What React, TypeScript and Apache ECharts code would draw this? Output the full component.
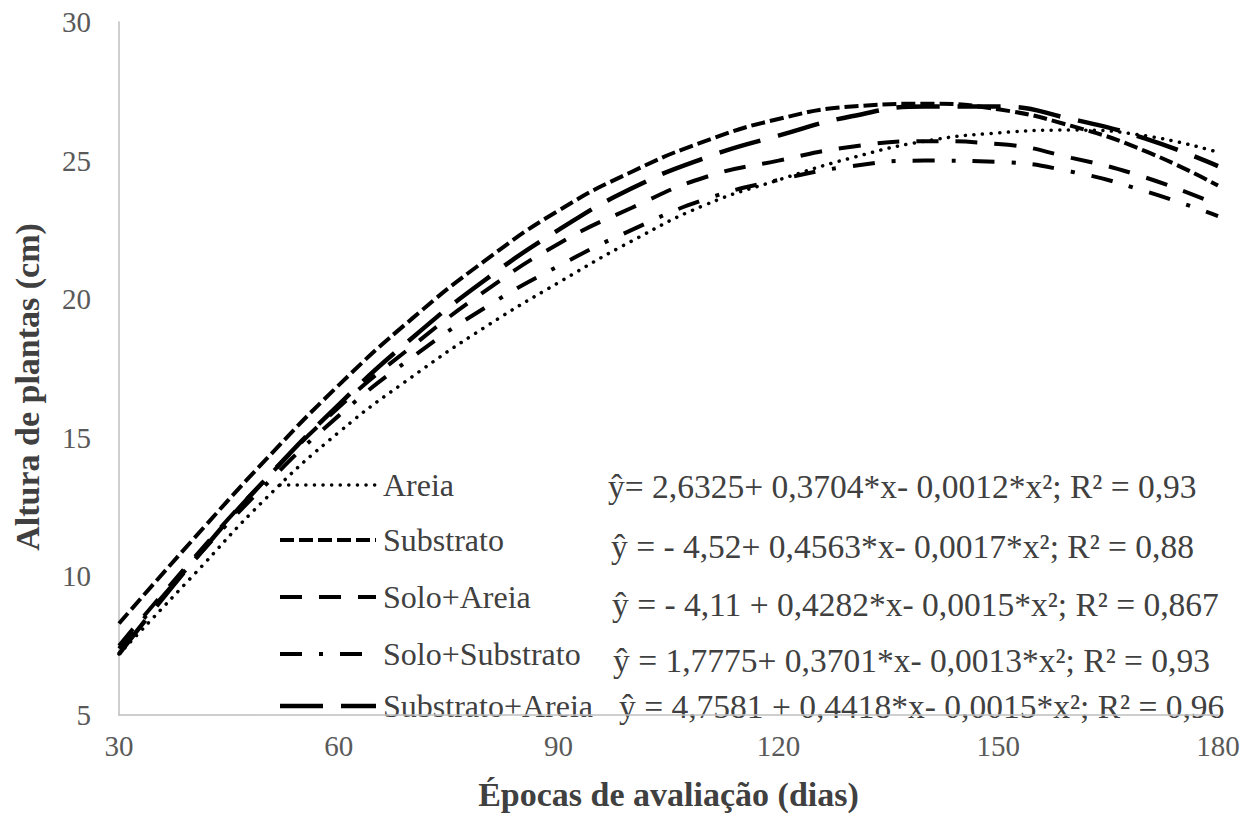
import React, { useEffect, useRef } from "react";
import * as echarts from "echarts";

const days = [30, 40, 50, 60, 70, 80, 90, 100, 110, 120, 130, 140, 150, 160, 170, 180];
const areia = [7.2, 10.0, 12.8, 15.2, 17.2, 19.0, 20.6, 22.1, 23.4, 24.3, 25.1, 25.7, 26.0, 26.1, 25.9, 25.3];
const substrato = [8.3, 11.3, 14.2, 16.9, 19.3, 21.4, 23.2, 24.6, 25.7, 26.5, 26.95, 27.05, 26.85, 26.25, 25.35, 24.1];
const soloAreia = [7.5, 10.6, 13.5, 16.1, 18.3, 20.3, 22.0, 23.3, 24.4, 25.0, 25.5, 25.7, 25.6, 25.1, 24.4, 23.4];
const soloSubstrato = [7.4, 10.5, 13.3, 15.8, 17.9, 19.7, 21.2, 22.5, 23.6, 24.3, 24.8, 25.0, 24.95, 24.6, 23.9, 23.0];
const substratoAreia = [7.2, 10.5, 13.5, 16.2, 18.6, 20.7, 22.5, 24.0, 25.1, 25.9, 26.6, 26.95, 26.95, 26.5, 25.8, 24.8];

const seriesNames = ["Areia", "Substrato", "Solo+Areia", "Solo+Substrato", "Substrato+Areia"];
const seriesValues = [areia, substrato, soloAreia, soloSubstrato, substratoAreia];
const equations = [
  "ŷ= 2,6325+ 0,3704*x- 0,0012*x²; R² = 0,93",
  "ŷ = - 4,52+ 0,4563*x- 0,0017*x²; R² = 0,88",
  "ŷ = - 4,11 + 0,4282*x- 0,0015*x²; R² = 0,867",
  "ŷ = 1,7775+ 0,3701*x- 0,0013*x²; R² = 0,93",
  "ŷ = 4,7581 + 0,4418*x- 0,0015*x²; R² = 0,96",
];

const lineWidths = [3.5, 4, 4, 4, 4.5];
const dashes = [
  [0.1, 8.5],
  [14, 5],
  [22, 17],
  [22, 17, 4, 17],
  [43, 18],
];
const caps = ["round", "butt", "butt", "butt", "butt"];

const FONT = "'Liberation Serif', 'Times New Roman', serif";

export default function App() {
  const ref = useRef<HTMLDivElement>(null);
  useEffect(() => {
    if (!ref.current) return;
    const chart = echarts.init(ref.current, null, { renderer: "svg" });
    const eqX = [608, 611, 612, 613, 619];
    const eqY = [486, 546, 604, 660, 706];
    const legY = [485, 540, 597, 654, 706];
    const legendItems: any[] = [];
    seriesNames.forEach((name, i) => {
      legendItems.push({
        type: "line",
        shape: { x1: 280, y1: legY[i], x2: 376, y2: legY[i] },
        style: { stroke: "#000", lineWidth: lineWidths[i], lineDash: dashes[i], lineCap: caps[i] },
      });
      legendItems.push({
        type: "text",
        x: 383,
        y: legY[i],
        style: { text: name, fontFamily: FONT, fontSize: 32, fill: "#404040", align: "left", verticalAlign: "middle" },
      });
    });
    chart.setOption({
      animation: false,
      backgroundColor: "#ffffff",
      grid: { left: 119, right: 35, top: 22, bottom: 94 },
      xAxis: {
        type: "value",
        min: 30,
        max: 180,
        interval: 30,
        name: "Épocas de avaliação (dias)",
        nameLocation: "middle",
        nameGap: 62,
        nameTextStyle: { fontFamily: FONT, fontSize: 34, fontWeight: "bold", color: "#404040" },
        axisLine: { show: true, lineStyle: { color: "#bfbfbf", width: 1.5 } },
        axisTick: { show: false },
        splitLine: { show: false },
        axisLabel: { fontFamily: FONT, fontSize: 29, color: "#595959", margin: 16 },
      },
      yAxis: {
        type: "value",
        min: 5,
        max: 30,
        interval: 5,
        axisLine: { show: true, lineStyle: { color: "#bfbfbf", width: 1.5 } },
        axisTick: { show: false },
        splitLine: { show: false },
        axisLabel: { fontFamily: FONT, fontSize: 29, color: "#595959", margin: 28 },
      },
      series: seriesNames.map((name, i) => ({
        name,
        type: "line",
        smooth: true,
        symbol: "none",
        data: days.map((d, j) => [d, seriesValues[i][j]]),
        lineStyle: { color: "#000000", width: lineWidths[i], type: dashes[i], cap: caps[i] },
        itemStyle: { color: "#000000" },
      })),
      graphic: [
        {
          type: "text",
          rotation: Math.PI / 2,
          x: 27,
          y: 387,
          style: {
            text: "Altura de plantas (cm)",
            fontFamily: FONT,
            fontSize: 34,
            fontWeight: "bold",
            fill: "#404040",
            align: "center",
            verticalAlign: "middle",
          },
        },
        ...legendItems,
        ...equations.map((t, i) => ({
          type: "text",
          x: eqX[i],
          y: eqY[i],
          style: {
            text: t,
            fontFamily: FONT,
            fontSize: 33.5,
            fill: "#404040",
            align: "left",
            verticalAlign: "middle",
          },
        })),
      ],
    });
    return () => chart.dispose();
  }, []);
  return <div ref={ref} style={{ width: 1253, height: 816, position: "absolute", left: 0, top: 0 }} />;
}
